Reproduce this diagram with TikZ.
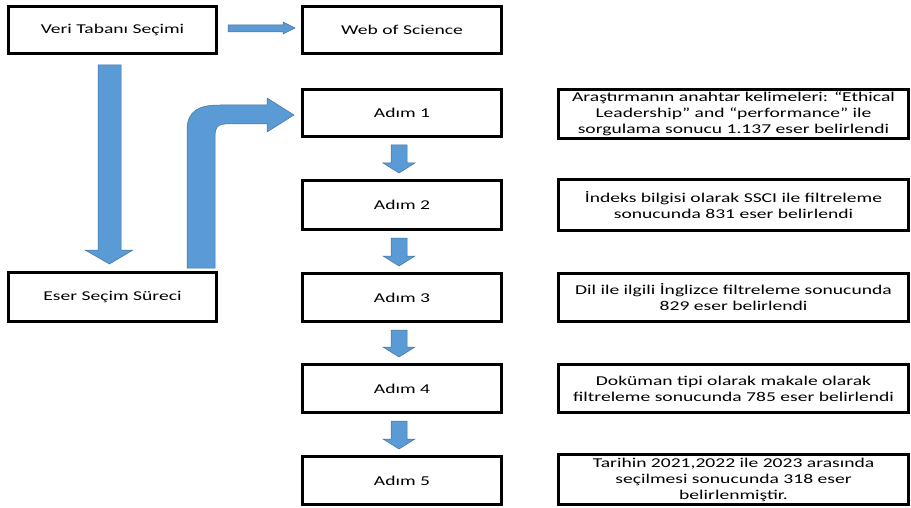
\documentclass[tikz,border=0pt]{standalone}
\usepackage{fontspec}
\setmainfont{Carlito}[FakeStretch=1.45]
\usetikzlibrary{calc}
\definecolor{arrfill}{RGB}{91,155,213}
\definecolor{arrline}{RGB}{65,113,156}
\tikzset{
  box/.style={draw=black, line width=3pt, fill=white, rectangle, inner sep=2pt,
    align=center, font=\fontsize{13.5}{16}\selectfont},
  leftbox/.style={box, minimum width=208pt, minimum height=47pt},
  stepbox/.style={box, minimum width=199pt},
  infobox/.style={box, minimum width=350pt},
  barrow/.style={fill=arrfill, draw=arrline, line width=0.5pt, line join=miter}
}
\newcommand\blockdown[2]{%
  \filldraw[barrow] ($(#1.south)+(-11,7)$) -- ($(#1.south)+(5,7)$) -- ($(#2.north)+(5,-16)$)
    -- ($(#2.north)+(13,-16)$) -- ($(#2.north)+(-3,-6)$) -- ($(#2.north)+(-19,-16)$)
    -- ($(#2.north)+(-11,-16)$) -- cycle;}
\begin{document}
\begin{tikzpicture}[x=1pt,y=-1pt]
\useasboundingbox (0,0) rectangle (911,508);
% left column
\node[leftbox] (veri) at (112.5,30) {Veri Tabanı Seçimi};
\node[leftbox, minimum height=49pt] (eser) at (112.5,297) {Eser Seçim Süreci};
% middle column
\node[stepbox, minimum height=47pt] (wos) at (402,30) {Web of Science};
\node[stepbox, minimum height=47pt] (a1) at (402,113) {Adım 1};
\node[stepbox, minimum height=49pt] (a2) at (402,205) {Adım 2};
\node[stepbox, minimum height=48pt] (a3) at (402,297.5) {Adım 3};
\node[stepbox, minimum height=48pt] (a4) at (402,388.5) {Adım 4};
\node[stepbox, minimum height=48pt] (a5) at (402,480.5) {Adım 5};
% right column
\node[infobox, minimum height=49pt] (i1) at (733.5,114) {Araştırmanın anahtar kelimeleri: “Ethical\\Leadership” and “performance” ile\\sorgulama sonucu 1.137 eser belirlendi};
\node[infobox, minimum height=51pt] (i2) at (733.5,205) {İndeks bilgisi olarak SSCI ile filtreleme\\sonucunda 831 eser belirlendi};
\node[infobox, minimum height=48pt] (i3) at (733.5,297.5) {Dil ile ilgili İnglizce filtreleme sonucunda\\829 eser belirlendi};
\node[infobox, minimum height=48pt] (i4) at (733.5,388.5) {Doküman tipi olarak makale olarak\\filtreleme sonucunda 785 eser belirlendi};
\node[infobox, minimum height=50pt] (i5) at (733.5,479.5) {Tarihin 2021,2022 ile 2023 arasında\\seçilmesi sonucunda 318 eser\\belirlenmiştir.};
% horizontal arrow veri -> wos
\filldraw[barrow] ($(veri.east)+(10,-5)$) -- ($(wos.west)+(-18,-5)$) -- ($(wos.west)+(-18,-8)$)
  -- ($(wos.west)+(-6,-2)$) -- ($(wos.west)+(-18,4)$) -- ($(wos.west)+(-18,2)$)
  -- ($(veri.east)+(10,2)$) -- cycle;
% big down arrow veri -> eser
\filldraw[barrow] ($(veri.south)+(-14.5,10)$) -- ($(veri.south)+(8.5,10)$) -- ($(eser.north)+(8.5,-21)$)
  -- ($(eser.north)+(20.5,-21)$) -- ($(eser.north)+(-3,-7)$) -- ($(eser.north)+(-27.5,-21)$)
  -- ($(eser.north)+(-14.5,-21)$) -- cycle;
% bent arrow eser -> a1
\filldraw[barrow] let \p1=(eser.north east), \p2=(a1.west) in
  (\x1-31pt,\y1+3pt) -- (\x1-31pt,\y2-17pt)
  .. controls (\x1-31pt,\y2+3pt) and (\x1-18pt,\y2+8pt) .. (\x1+2pt,\y2+8pt)
  -- (\x2-34pt,\y2+8pt) -- (\x2-34pt,\y2+15pt) -- (\x2-7pt,\y2-2pt)
  -- (\x2-34pt,\y2-19pt) -- (\x2-34pt,\y2-11pt) -- (\x1+7pt,\y2-11pt)
  .. controls (\x1,\y2-11pt) and (\x1-3pt,\y2-15pt) .. (\x1-3pt,\y2-22pt)
  -- (\x1-3pt,\y1+3pt) -- cycle;
% step arrows
\blockdown{a1}{a2}
\blockdown{a2}{a3}
\blockdown{a3}{a4}
\blockdown{a4}{a5}
\end{tikzpicture}
\end{document}
